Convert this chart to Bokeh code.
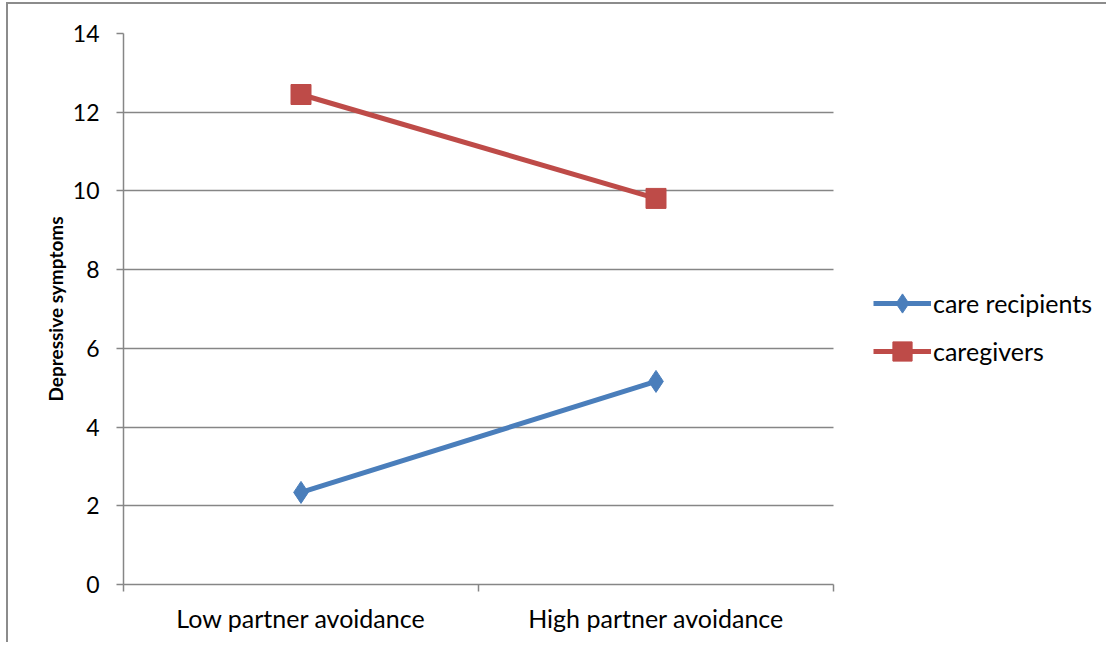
from bokeh.plotting import figure
from bokeh.models import FixedTicker, Legend, LegendItem, ColumnDataSource, Range1d
from bokeh.embed import file_html
from bokeh.resources import INLINE

# ---- data ----
categories = ["Low partner avoidance", "High partner avoidance"]
care_recipients = [2.34, 5.16]
caregivers = [12.45, 9.81]
y_ticks = [0, 2, 4, 6, 8, 10, 12, 14]
series_names = ["care recipients", "caregivers"]

FONT = "Lato"
GRID = "#868686"
BLUE = "#4A7EBB"
RED = "#BE4B48"

# layout: the plotting area (710 px wide) holds the categories; the frame
# continues to the right so the legend can sit inside it
W, H = 1100, 640
LEFT, TOP, BOTTOM = 115, 29, 60
PLOT_W = 710
FRAME_W = W - LEFT
n = len(categories)
x_end = n * FRAME_W / PLOT_W

x_pos = [i + 0.5 for i in range(n)]
x_bounds = list(range(n + 1))

p = figure(width=W, height=H, output_backend="svg", toolbar_location=None,
           x_range=Range1d(0, x_end), y_range=Range1d(y_ticks[0], y_ticks[-1]),
           min_border_left=LEFT, min_border_top=TOP, min_border_right=0,
           min_border_bottom=BOTTOM)
p.outline_line_color = None
p.background_fill_color = "white"
p.border_fill_color = "white"
p.styles = {"border-top": "2px solid #8c8c8c", "border-left": "2px solid #8c8c8c",
            "margin-top": "2px", "margin-left": "6px"}

# y axis
p.yaxis.ticker = FixedTicker(ticks=y_ticks, minor_ticks=[])
p.yaxis.axis_line_color = GRID
p.yaxis.axis_line_width = 1.5
p.yaxis.major_tick_line_color = GRID
p.yaxis.major_tick_line_width = 1.5
p.yaxis.major_tick_out = 7
p.yaxis.major_tick_in = 0
p.yaxis.major_label_standoff = 17
p.yaxis.major_label_text_font = FONT
p.yaxis.major_label_text_font_size = "23px"
p.yaxis.major_label_text_color = "black"
p.yaxis.axis_label = "Depressive symptoms"
p.yaxis.axis_label_text_font = FONT
p.yaxis.axis_label_text_font_style = "bold"
p.yaxis.axis_label_text_font_size = "19px"
p.yaxis.axis_label_text_color = "black"
p.yaxis.axis_label_standoff = 3

# x axis: labels centred in categories, tick marks at category boundaries
p.xaxis.bounds = (0, n)
p.xaxis.ticker = FixedTicker(ticks=x_pos, minor_ticks=x_bounds)
p.xaxis.major_label_overrides = {x: c for x, c in zip(x_pos, categories)}
p.xaxis.axis_line_color = GRID
p.xaxis.axis_line_width = 1.5
p.xaxis.major_tick_line_color = None
p.xaxis.major_tick_out = 0
p.xaxis.major_tick_in = 0
p.xaxis.minor_tick_line_color = GRID
p.xaxis.minor_tick_line_width = 1.5
p.xaxis.minor_tick_out = 7
p.xaxis.minor_tick_in = 0
p.xaxis.major_label_standoff = 11
p.xaxis.major_label_text_font = FONT
p.xaxis.major_label_text_font_size = "25px"
p.xaxis.major_label_text_color = "black"

p.xgrid.grid_line_color = None
p.ygrid.ticker = FixedTicker(ticks=y_ticks)
p.ygrid.cross_bounds = (0, n)
p.ygrid.grid_line_color = GRID
p.ygrid.grid_line_width = 1.5

src_r = ColumnDataSource(dict(x=x_pos, y=care_recipients))
src_g = ColumnDataSource(dict(x=x_pos, y=caregivers))

l1 = p.line("x", "y", source=src_r, line_color=BLUE, line_width=5)
m1 = p.scatter("x", "y", source=src_r, marker="diamond", size=22,
               fill_color=BLUE, line_color=BLUE)
l2 = p.line("x", "y", source=src_g, line_color=RED, line_width=5)
m2 = p.scatter("x", "y", source=src_g, marker="square", size=20,
               fill_color=RED, line_color=RED)

legend = Legend(items=[LegendItem(label=series_names[0], renderers=[l1, m1]),
                       LegendItem(label=series_names[1], renderers=[l2, m2])],
                location=(750, 209))
legend.border_line_color = None
legend.background_fill_alpha = 0
legend.padding = 0
legend.margin = 0
legend.spacing = 0
legend.glyph_width = 58
legend.glyph_height = 48
legend.label_height = 48
legend.label_standoff = 2
legend.label_text_font = FONT
legend.label_text_font_size = "25px"
legend.label_text_color = "black"
p.add_layout(legend, "center")

open("out.html", "w").write(file_html(p, INLINE))
